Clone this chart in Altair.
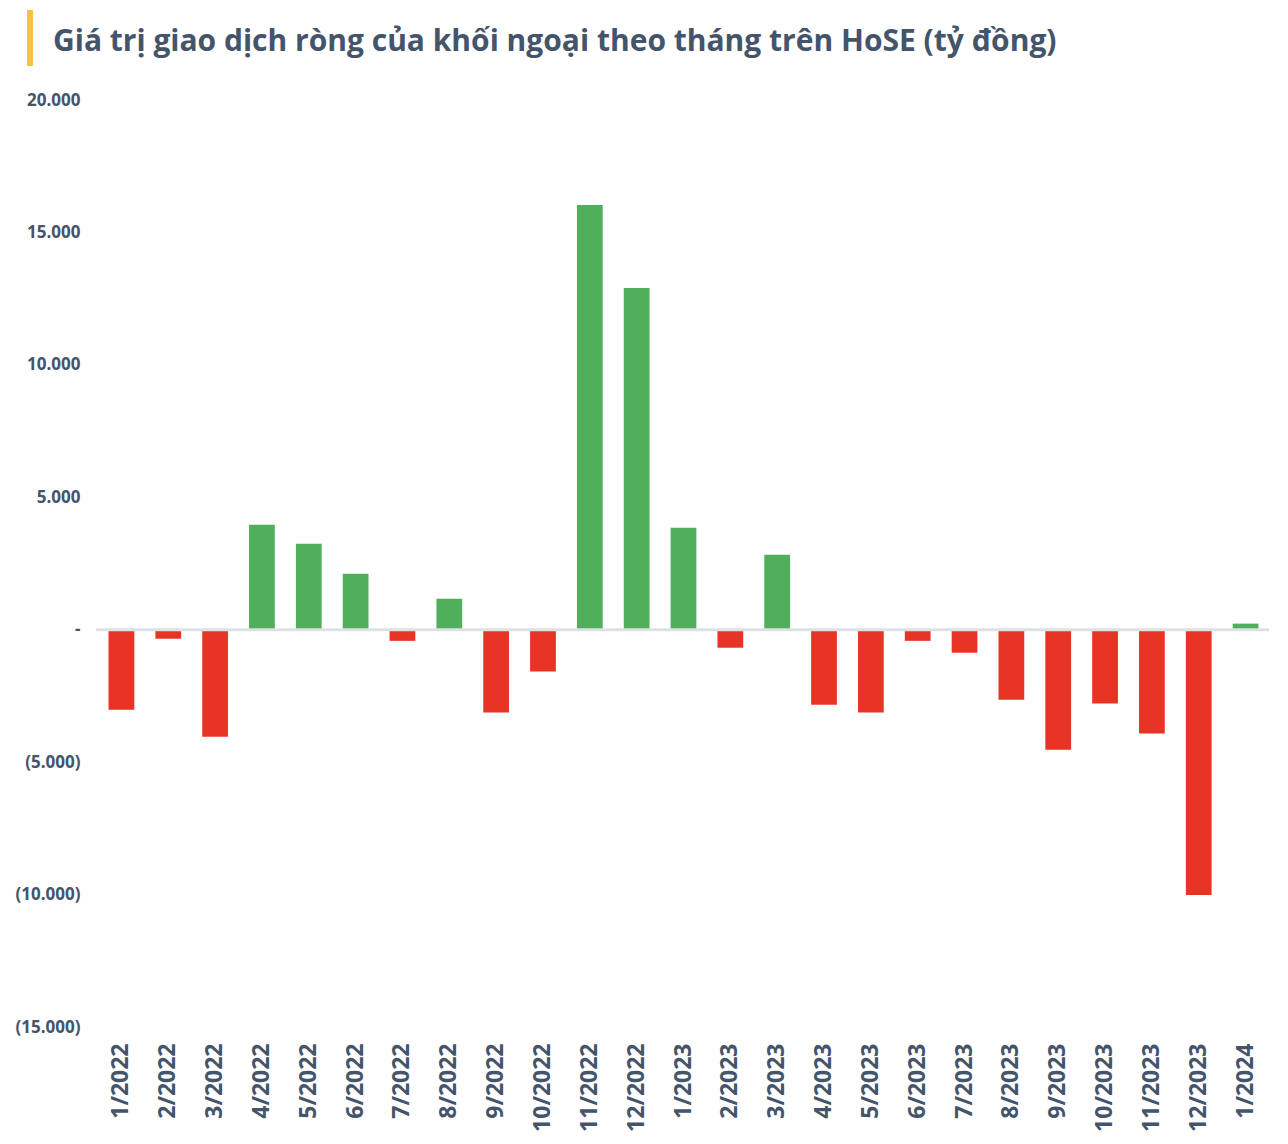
import altair as alt
import pandas as pd

months = ["1/2022", "2/2022", "3/2022", "4/2022", "5/2022", "6/2022", "7/2022", "8/2022",
          "9/2022", "10/2022", "11/2022", "12/2022", "1/2023", "2/2023", "3/2023", "4/2023",
          "5/2023", "6/2023", "7/2023", "8/2023", "9/2023", "10/2023", "11/2023", "12/2023",
          "1/2024"]
values = [-3020, -340, -4040, 3960, 3250, 2110, -420, 1170,
          -3130, -1580, 16040, 12900, 3850, -680, 2830, -2830,
          -3130, -420, -870, -2640, -4530, -2790, -3920, -10020,
          230]
title_text = ["Giá trị giao dịch ròng của khối ngoại theo tháng trên HoSE (tỷ đồng)"]

df = pd.DataFrame({"month": months, "value": values})
df["sign"] = ["pos" if v >= 0 else "neg" for v in values]

TEXT = "#44546a"
FONT = "Open Sans"

x_enc = alt.X("month:N", sort=months,
              scale=alt.Scale(paddingInner=0.45, paddingOuter=0.225),
              axis=alt.Axis(title=None, labelAngle=270, labelAlign="right", labelBaseline="middle",
                            labelFontSize=23, labelFontWeight="bold", labelColor=TEXT, labelFont=FONT,
                            ticks=False, domain=False, labelPadding=16))
y_scale = alt.Scale(domain=[-15000, 20000], nice=False, zero=False)

label_expr = ("datum.value == 0 ? '-' : (datum.value < 0 ? "
              "'(' + replace(format(-datum.value, ',.0f'), ',', '.') + ')' : "
              "replace(format(datum.value, ',.0f'), ',', '.'))")

bars = alt.Chart(df).mark_bar().encode(
    x=x_enc,
    y=alt.Y("value:Q", scale=y_scale,
            axis=alt.Axis(title=None, values=[-15000, -10000, -5000, 0, 5000, 10000, 15000, 20000],
                          labelExpr=label_expr,
                          labelFontSize=17, labelFontWeight="bold", labelColor=TEXT, labelFont=FONT,
                          ticks=False, domain=False, grid=False, labelPadding=18)),
    y2=alt.datum(0),
    color=alt.Color("sign:N", scale=alt.Scale(domain=["pos", "neg"], range=["#4faf5b", "#e83425"]),
                    legend=None),
)

zero = alt.Chart(pd.DataFrame({"z": [0]})).mark_rule(color="#dde1e6", strokeWidth=3).encode(
    y=alt.Y("z:Q", scale=y_scale),
    x=alt.value(-2), x2=alt.value(1171),
)

accent = alt.Chart(pd.DataFrame({"a": [0]})).mark_rule(color="#f5c242", strokeWidth=6).encode(
    x=alt.value(-68), y=alt.value(-90), y2=alt.value(-34),
)

title = alt.Chart(pd.DataFrame({"t": title_text})).mark_text(
    align="left", baseline="alphabetic", fontSize=30, fontWeight="bold", color=TEXT, font=FONT
).encode(text="t:N", x=alt.value(-45), y=alt.value(-49))

chart = alt.layer(bars, zero, accent, title).properties(
    width=1171, height=927,
    autosize=alt.AutoSizeParams(type="none"),
    padding={"left": 90, "top": 92, "right": 10, "bottom": 120},
).configure_view(stroke=None)

chart.save("out.html", embed_options={"renderer": "svg", "actions": False})
